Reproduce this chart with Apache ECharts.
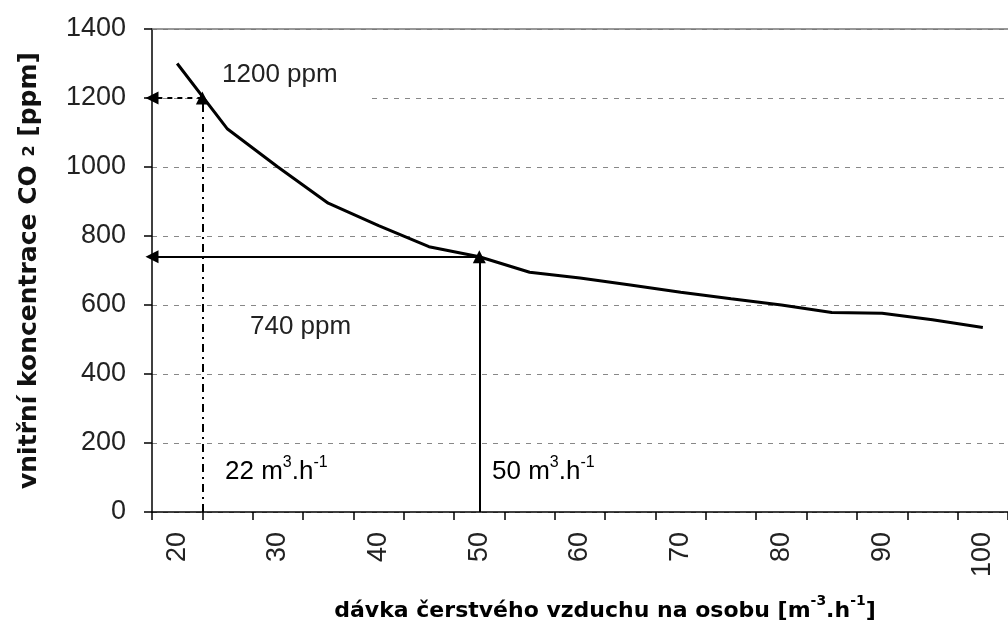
<!DOCTYPE html>
<html>
<head>
<meta charset="utf-8">
<script src="https://cdn.jsdelivr.net/npm/echarts@6/dist/echarts.min.js"></script>
<style>
  html, body { margin: 0; background: #fff; }
  #chart { width: 1008px; height: 635px; }
</style>
</head>
<body>
<div id="chart"></div>
<script>
// x categories (fresh air dose per person), labels every other one
const doseCats = ['20', '25', '30', '35', '40', '45', '50', '55', '60', '65', '70', '75', '80', '85', '90', '95', '100'];
const doseVals = [20, 25, 30, 35, 40, 45, 50, 55, 60, 65, 70, 75, 80, 85, 90, 95, 100];
// indoor CO2 concentration
const co2Vals = [1300, 1110, 1000, 895, 830, 769, 740, 695, 678, 658, 637, 618, 600, 578, 576, 557, 535];
// the two read-off examples: [dose, ppm]
const guideLow = [22.5, 1200];
const guideMid = [50, 740];

const FONT = "'Liberation Sans', Arial, sans-serif";
const BOLD = "'DejaVu Sans', sans-serif";
const xMin = 17.5, xMax = 102.5;

const chartDom = document.getElementById('chart');
const myChart = echarts.init(chartDom);

const supRich = {
  n: { fontSize: 26, fontFamily: FONT, color: '#222', verticalAlign: 'bottom', lineHeight: 30 },
  s: { fontSize: 16, fontFamily: FONT, color: '#222', verticalAlign: 'top', lineHeight: 30 }
};

let option = {
  animation: false,
  backgroundColor: '#fff',
  grid: { left: 152, top: 29, width: 864, height: 483 },
  xAxis: [
    {
      type: 'category',
      data: doseCats,
      boundaryGap: true,
      position: 'bottom',
      axisLine: { show: true, onZero: false, lineStyle: { color: '#000', width: 1.5 } },
      axisTick: { show: true, inside: false, interval: 0, length: 8, lineStyle: { color: '#000', width: 1.5 } },
      axisLabel: { interval: 1, rotate: 90, margin: 20, fontSize: 27, fontFamily: FONT, color: '#222' },
      splitLine: { show: false }
    },
    {
      // hidden value scale matching the category cells, used for the data
      type: 'value',
      position: 'top',
      min: xMin,
      max: xMax,
      axisLine: { show: true, onZero: false, lineStyle: { color: '#777', width: 1.5 } },
      axisTick: { show: false },
      axisLabel: { show: false },
      splitLine: { show: false }
    }
  ],
  yAxis: {
    type: 'value',
    min: 0,
    max: 1400,
    interval: 200,
    axisLine: { show: true, onZero: false, lineStyle: { color: '#000', width: 1.5 } },
    axisTick: { show: true, length: 8, lineStyle: { color: '#000', width: 1.5 } },
    axisLabel: {
      margin: 26, fontSize: 27, fontFamily: FONT, color: '#222',
      formatter: function (v) { return String(v); }
    },
    splitLine: { lineStyle: { type: [5, 6], color: '#888', width: 1 } },
    name: 'vnitřní koncentrace CO {s|2} [ppm]',
    nameLocation: 'middle',
    nameRotate: 90,
    nameGap: 110,
    nameTextStyle: {
      fontSize: 25, fontWeight: 'bold', fontFamily: BOLD, color: '#111',
      rich: { s: { fontSize: 16, fontWeight: 'bold', fontFamily: BOLD, color: '#111' } }
    }
  },
  series: [
    {
      name: 'CO2',
      type: 'line',
      xAxisIndex: 1,
      yAxisIndex: 0,
      data: doseVals.map(function (x, i) { return [x, co2Vals[i]]; }),
      symbol: 'none',
      z: 3,
      lineStyle: { color: '#000', width: 3 },
      markLine: {
        silent: true,
        symbol: ['none', 'triangle'],
        symbolSize: 13,
        label: { show: false },
        emphasis: { disabled: true },
        data: [
          [
            { coord: [guideLow[0], guideLow[1]], lineStyle: { color: '#000', width: 2, type: [5, 5] } },
            { coord: [xMin, guideLow[1]] }
          ],
          [
            { coord: [guideLow[0], 0], lineStyle: { color: '#000', width: 2, type: [8, 5, 2, 5] } },
            { coord: [guideLow[0], guideLow[1]] }
          ],
          [
            { coord: [guideMid[0], guideMid[1]], lineStyle: { color: '#000', width: 2, type: 'solid' } },
            { coord: [xMin, guideMid[1]] }
          ],
          [
            { coord: [guideMid[0], 0], lineStyle: { color: '#000', width: 2, type: 'solid' } },
            { coord: [guideMid[0], guideMid[1]] }
          ]
        ]
      }
    }
  ],
  graphic: [
    { type: 'rect', z: 1, silent: true, shape: { x: 207, y: 58, width: 159, height: 44 }, style: { fill: '#fff' } },
    { type: 'text', z: 4, x: 222, y: 62, style: { text: '1200 ppm', font: '26px ' + FONT, fill: '#222' } },
    { type: 'text', z: 4, x: 250, y: 314, style: { text: '740 ppm', font: '26px ' + FONT, fill: '#222' } },
    { type: 'text', z: 4, x: 225, y: 455, style: { text: '{n|22 m}{s|3}{n|.h}{s|-1}', rich: supRich } },
    { type: 'text', z: 4, x: 492, y: 455, style: { text: '{n|50 m}{s|3}{n|.h}{s|-1}', rich: supRich } },
    {
      type: 'text', z: 4, x: 605, y: 594,
      style: {
        text: '{b|dávka čerstvého vzduchu na osobu [m}{t|-3}{b|.h}{t|-1}{b|]}',
        align: 'center',
        rich: {
          b: { fontSize: 22, fontWeight: 'bold', fontFamily: BOLD, color: '#111', verticalAlign: 'bottom', lineHeight: 28 },
          t: { fontSize: 14, fontWeight: 'bold', fontFamily: BOLD, color: '#111', verticalAlign: 'top', lineHeight: 28 }
        }
      }
    }
  ]
};

myChart.setOption(option);
</script>
</body>
</html>
